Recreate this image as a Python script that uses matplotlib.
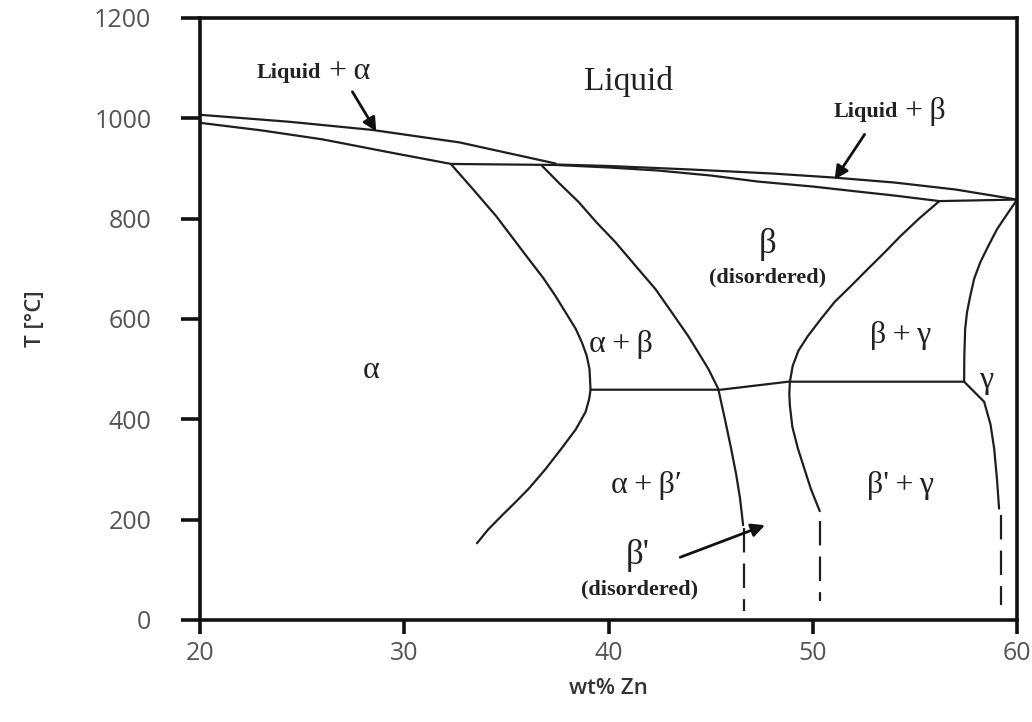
import matplotlib
matplotlib.use("Agg")
import matplotlib.pyplot as plt

# phase boundaries (wt% Zn, T in C)
alpha_liq_x = [20.0, 24.4, 28.4, 32.7, 37.4]
alpha_liq_T = [1007, 993, 977, 952, 910]

alpha_sol_x = [20.0, 23.0, 26.0, 29.3, 32.3]
alpha_sol_T = [991, 976, 958, 932, 909]

peri1_x = [32.3, 37.4]
peri1_T = [909, 907]

beta_liq_x = [37.4, 40.0, 44.0, 48.0, 51.0, 54.0, 57.0, 60.0]
beta_liq_T = [908, 905, 898, 890, 882, 872, 858, 838]

beta_sol_x = [37.4, 40.0, 42.4, 45.0, 47.3, 50.0, 52.2, 54.0, 56.2]
beta_sol_T = [907, 902, 896, 886, 874, 864, 854, 846, 835]

peri2_x = [56.2, 60.0]
peri2_T = [835, 838]

alpha_solvus_x = [32.3, 33.4, 34.5, 35.3, 36.1, 36.8, 37.4, 37.9, 38.4, 38.7, 38.93,
                  39.07, 39.12, 39.05, 38.88, 38.4, 37.7, 36.9, 36.1, 35.4, 34.8, 34.1, 33.56]
alpha_solvus_T = [908, 857, 805, 762, 719, 682, 646, 613, 580, 553, 527,
                  500, 459, 440, 415, 380, 342, 300, 262, 233, 209, 180, 153]

beta_left_x = [36.73, 37.6, 38.54, 39.4, 40.34, 41.3, 42.29, 43.1, 43.9, 44.4, 44.88,
               45.37, 45.7, 46.0, 46.25, 46.44, 46.59]
beta_left_T = [906, 870, 833, 793, 753, 707, 660, 613, 566, 533, 501,
               461, 400, 342, 290, 242, 189]

order_x = [39.12, 45.5, 48.8, 57.41]
order_T = [459, 459, 475, 475]

beta_right_x = [56.2, 55.2, 54.29, 53.5, 52.68, 51.9, 51.07, 50.4, 49.76, 49.3, 49.02,
                48.88, 48.85, 48.88, 49.0, 49.27, 49.6, 49.9, 50.34]
beta_right_T = [835, 800, 765, 732, 699, 667, 634, 600, 566, 537, 507,
                475, 450, 427, 385, 342, 300, 262, 217]

gamma_x = [60.0, 59.5, 59.02, 58.6, 58.2, 57.9, 57.71, 57.55, 57.46, 57.42, 57.41,
           57.9, 58.39, 58.7, 58.88, 59.02, 59.12]
gamma_T = [838, 808, 779, 746, 713, 680, 646, 613, 580, 527, 475,
           455, 435, 390, 342, 280, 222]

dash_x = [46.63, 50.34, 59.22]
dash_top = [183, 197, 209]
dash_bot = [18, 38, 30]

xticks = [20, 30, 40, 50, 60]
yticks = [0, 200, 400, 600, 800, 1000, 1200]

serif = "Liberation Serif"
lc = "#1e1e1e"

fig = plt.figure(figsize=(10.32, 7.22), dpi=100)
ax = fig.add_axes([0.1938, 0.1413, 0.7917, 0.8338])

curves = [(alpha_liq_x, alpha_liq_T), (alpha_sol_x, alpha_sol_T), (peri1_x, peri1_T),
          (beta_liq_x, beta_liq_T), (beta_sol_x, beta_sol_T), (peri2_x, peri2_T),
          (alpha_solvus_x, alpha_solvus_T), (beta_left_x, beta_left_T),
          (order_x, order_T), (beta_right_x, beta_right_T), (gamma_x, gamma_T)]
for cx, cy in curves:
    ax.plot(cx, cy, color=lc, lw=1.6, solid_capstyle="round", solid_joinstyle="round")

for dx, t0, t1 in zip(dash_x, dash_top, dash_bot):
    ax.plot([dx, dx], [t0, t1], color=lc, lw=1.6, linestyle=(0, (11, 5)))

# labels
ax.text(41.0, 1073, "Liquid", family=serif, fontsize=24, ha="center", va="center", color="#222")
ax.text(25.9, 1091, "Liquid", family=serif, fontsize=16, weight="bold", ha="right", va="center", color="#222")
ax.text(26.3, 1093, "+\u2009α", family=serif, fontsize=23, ha="left", va="center", color="#222")
ax.text(54.15, 1012, "Liquid", family=serif, fontsize=16, weight="bold", ha="right", va="center", color="#222")
ax.text(54.5, 1014, "+\u2009β", family=serif, fontsize=23, ha="left", va="center", color="#222")

ax.text(47.8, 748, "β", family=serif, fontsize=25, ha="center", va="center", color="#222")
ax.text(47.8, 682, "(disordered)", family=serif, fontsize=16, weight="bold", ha="center", va="center", color="#222")
ax.text(40.6, 550, "α\u2009+\u2009β", family=serif, fontsize=23, ha="center", va="center", color="#222")
ax.text(54.3, 568, "β\u2009+\u2009γ", family=serif, fontsize=23, ha="center", va="center", color="#222")
ax.text(58.5, 478, "γ", family=serif, fontsize=23, ha="center", va="center", color="#222")
ax.text(28.4, 498, "α", family=serif, fontsize=23, ha="center", va="center", color="#222")
ax.text(41.85, 268, "α\u2009+\u2009β′", family=serif, fontsize=23, ha="center", va="center", color="#222")
ax.text(54.3, 268, "β'\u2009+\u2009γ", family=serif, fontsize=23, ha="center", va="center", color="#222")
ax.text(41.45, 128, "β'", family=serif, fontsize=25, ha="center", va="center", color="#222")
ax.text(41.5, 60, "(disordered)", family=serif, fontsize=16, weight="bold", ha="center", va="center", color="#222")

arrow = dict(arrowstyle="-|>", color="#111", lw=2.0, mutation_scale=20, shrinkA=0, shrinkB=0)
ax.annotate("", xy=(28.63, 974), xytext=(27.46, 1053), arrowprops=arrow)
ax.annotate("", xy=(51.07, 878), xytext=(52.54, 968), arrowprops=arrow)
ax.annotate("", xy=(47.66, 189), xytext=(43.51, 125), arrowprops=arrow)

ax.set_xlim(20, 60)
ax.set_ylim(0, 1200)
ax.set_xticks(xticks)
ax.set_yticks(yticks)
for s in ax.spines.values():
    s.set_linewidth(2.6)
    s.set_color("#111")
ax.tick_params(axis="both", direction="out", width=2.6, color="#111",
               labelsize=18, labelcolor="#555555")
ax.tick_params(axis="y", length=14, pad=21)
ax.tick_params(axis="x", length=10, pad=5)
for lab in ax.get_xticklabels() + ax.get_yticklabels():
    lab.set_family("Open Sans")

ax.set_xlabel("wt% Zn", family="Open Sans", fontsize=16, weight="semibold", color="#333", labelpad=9)
ax.set_ylabel("T [°C]", family="Open Sans", fontsize=16, weight="semibold", color="#333", labelpad=35)

fig.savefig("out.png", dpi=100)
